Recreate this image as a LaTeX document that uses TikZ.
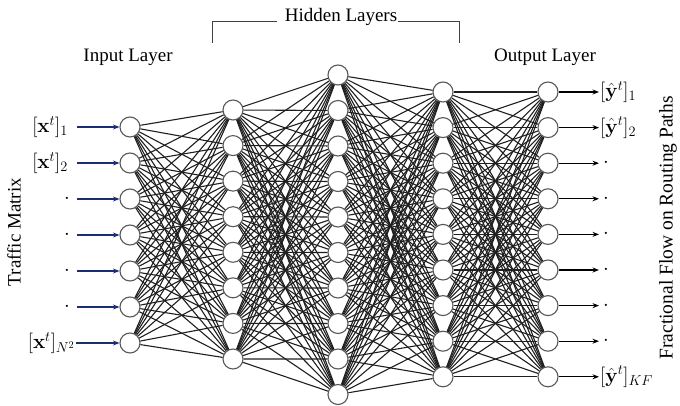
\RequirePackage{fix-cm}
\documentclass[tikz,border=0pt]{standalone}
\usepackage[no-math]{fontspec}
\setmainfont{Liberation Serif}
\usetikzlibrary{arrows.meta}
\definecolor{inblue}{RGB}{25,45,115}
\begin{document}
\begin{tikzpicture}[x=1pt,y=-1pt,
  neuron/.style={circle,draw=black!65,line width=1.1pt,fill=white,minimum size=20pt,inner sep=0pt},
  edge/.style={draw=black!88,line width=1.1pt},
  inarrow/.style={draw=inblue,line width=1.1pt,-{Stealth[length=6.5pt,width=5pt]}},
  outarrow/.style={draw=black,line width=1.1pt,-{Stealth[length=6.5pt,width=5pt]}},
  lbl/.style={font=\fontsize{20.5}{24}\selectfont,inner sep=0pt},
  ttl/.style={font=\fontsize{19}{22}\selectfont,inner sep=0pt}]
\useasboundingbox (0,0) rectangle (680,406);
% layers
\foreach \i in {1,...,7} \node[neuron] (a\i) at (130,{127+36*(\i-1)}) {};
\foreach \i in {1,...,8} \node[neuron] (b\i) at (233,{110+35.57*(\i-1)}) {};
\foreach \i in {1,...,10} \node[neuron] (c\i) at (338,{75+35.5*(\i-1)}) {};
\foreach \i in {1,...,9} \node[neuron] (d\i) at (443,{92+35.6*(\i-1)}) {};
\foreach \i in {1,...,9} \node[neuron] (e\i) at (548,{92+35.6*(\i-1)}) {};
% edges
\foreach \i in {1,...,7} \foreach \j in {1,...,8} \draw[edge] (a\i) -- (b\j);
\foreach \i in {1,...,8} \foreach \j in {1,...,10} \draw[edge] (b\i) -- (c\j);
\foreach \i in {1,...,10} \foreach \j in {1,...,9} \draw[edge] (c\i) -- (d\j);
\foreach \i in {1,...,9} \foreach \j in {1,...,9} \draw[edge] (d\i) -- (e\j);
% input labels and arrows
\node[lbl,anchor=east] (x1) at (68,127) {$[\mathbf{x}^t]_1$};
\node[lbl,anchor=east] (x2) at (68,163) {$[\mathbf{x}^t]_2$};
\foreach \i in {3,...,6} \node[lbl,anchor=east] (x\i) at (70,{127+36*(\i-1)}) {$\cdot$};
\node[lbl,anchor=east] (x7) at (75,343) {$[\mathbf{x}^t]_{N^2}$};
\foreach \i in {1,...,6} \coordinate (s\i) at (77,{127+36*(\i-1)});
\coordinate (s7) at (76,343);
\foreach \i in {1,...,7} \draw[inarrow] (s\i) -- (a\i);
% output arrows and labels
\foreach \i in {1,...,9} \coordinate (t\i) at (599,{92+35.6*(\i-1)});
\foreach \i in {1,...,9} \draw[outarrow] (e\i) -- (t\i);
\node[lbl,anchor=west] (y1) at (600,92) {$[{\hat{\mathbf{y}}}^t]_1$};
\node[lbl,anchor=west] (y2) at (600,127.6) {$[{\hat{\mathbf{y}}}^t]_2$};
\foreach \i in {3,...,8} \node[lbl,anchor=west] (y\i) at (603,{92+35.6*(\i-1)}) {$\cdot$};
\node[lbl,anchor=west] (y9) at (600,376.8) {$[{\hat{\mathbf{y}}}^t]_{KF}$};
% titles
\node[ttl] (inl) at (128,57) {Input Layer};
\node[ttl] (outl) at (545,57) {Output Layer};
\node[ttl] (hid) at (341,17) {Hidden Layers};
\draw[black!75,line width=0.9pt] (212,43) -- (212,21) -- (277,21);
\draw[black!75,line width=0.9pt] (398,21) -- (459,21) -- (459,43);
\node[ttl,rotate=90] (tm) at (14,232) {Traffic Matrix};
\node[ttl,rotate=90,font=\fontsize{19.5}{22}\selectfont] (ff) at (668,228) {Fractional Flow on Routing Paths};
\end{tikzpicture}
\end{document}
